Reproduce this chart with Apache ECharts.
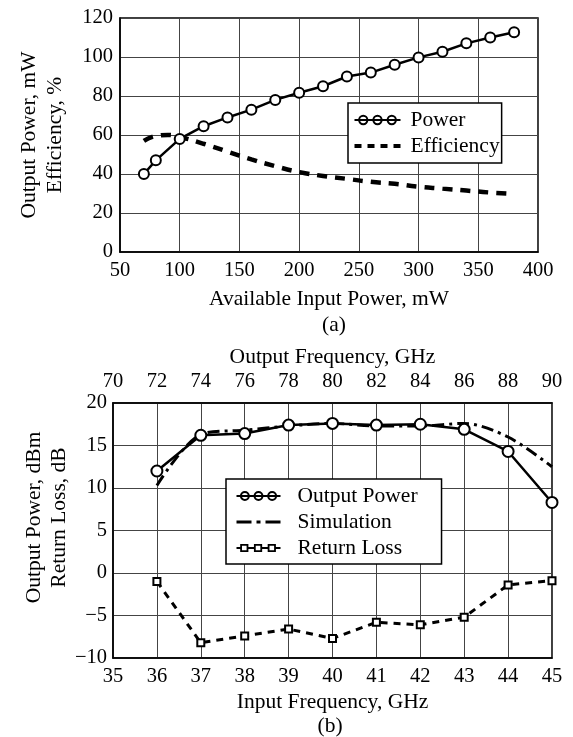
<!DOCTYPE html>
<html>
<head>
<meta charset="utf-8">
<script src="https://cdn.jsdelivr.net/npm/echarts@6/dist/echarts.min.js"></script>
<style>
  html, body { margin: 0; padding: 0; background: #fff; }
  #main { width: 573px; height: 737px; }
</style>
</head>
<body>
<div id="main"></div>
<script>
// (a) output power / efficiency vs available input power
const inputPower = [70, 80, 100, 120, 140, 160, 180, 200, 220, 240, 260, 280, 300, 320, 340, 360, 380];
const outPower = [40, 47, 58, 64.5, 69, 73, 78, 81.7, 85, 90, 92, 96, 99.8, 102.7, 107, 110, 112.7];
const effX = [70, 80, 90, 100, 120, 140, 160, 180, 200, 220, 240, 260, 280, 300, 320, 340, 360, 375];
const efficiency = [57, 59.5, 60, 59, 55.5, 51.5, 47.5, 44, 41, 39, 37.5, 36, 35, 33.5, 32.5, 31.5, 30.5, 30];

// (b) vs input frequency
const inFreq = [36, 37, 38, 39, 40, 41, 42, 43, 44, 45];
const outPowerDbm = [12.0, 16.2, 16.4, 17.4, 17.6, 17.4, 17.5, 16.9, 14.3, 8.3];
const simulation = [10.3, 16.3, 16.8, 17.3, 17.6, 17.3, 17.3, 17.6, 16.0, 12.5];
const returnLoss = [-1.0, -8.2, -7.4, -6.6, -7.7, -5.8, -6.1, -5.2, -1.4, -0.9];

const font = 'Liberation Serif';
const gridColor = '#444';
const tickSize = 20.5;
const nameSize = 21.5;

// legend icons (M0,0 / M0,10 keep the icon box 10 high)
const circleIcon = 'path://M0,5L50,5M5,5a4.5,4.5 0 1,0 9,0a4.5,4.5 0 1,0 -9,0M20.5,5a4.5,4.5 0 1,0 9,0a4.5,4.5 0 1,0 -9,0M36,5a4.5,4.5 0 1,0 9,0a4.5,4.5 0 1,0 -9,0';
const squareIcon = 'path://M0,5L5,5M5,1.5h7v7h-7zM12,5L20,5M20,1.5h7v7h-7zM27,5L35,5M35,1.5h7v7h-7zM42,5L48,5';
const dashIcon = 'path://M0,0M0,10M0,3h7v4h-7zM13,3h7v4h-7zM26,3h7v4h-7zM39,3h7v4h-7z';
const dashDotIcon = 'path://M0,0M0,10M0,3.5h15v3h-15zM20,3.5h4v3h-4zM29,3.5h15v3h-15z';

function xAxisCommon(extra) {
  return Object.assign({
    type: 'value',
    nameLocation: 'middle',
    nameMoveOverlap: false,
    nameTextStyle: { fontFamily: font, fontSize: nameSize, color: '#000' },
    axisLine: { show: true, onZero: false, lineStyle: { color: '#000', width: 1.5 } },
    axisTick: { show: false },
    splitLine: { show: true, lineStyle: { color: gridColor, width: 1 } }
  }, extra);
}

const chart = echarts.init(document.getElementById('main'));

const option = {
  backgroundColor: '#fff',
  animation: false,
  title: [
    { text: '(a)', left: 334, top: 314, padding: 0, textAlign: 'center',
      textStyle: { fontFamily: font, fontSize: nameSize, fontWeight: 'normal', color: '#000' } },
    { text: '(b)', left: 330, top: 715, padding: 0, textAlign: 'center',
      textStyle: { fontFamily: font, fontSize: nameSize, fontWeight: 'normal', color: '#000' } }
  ],
  grid: [
    { left: 120, top: 18, width: 418, height: 234, show: true, borderColor: '#000', borderWidth: 1.5 },
    { left: 113, top: 403, width: 439, height: 255, show: true, borderColor: '#000', borderWidth: 1.5 }
  ],
  legend: [
    {
      left: 348, top: 103, orient: 'vertical',
      padding: [6, 2, 6, 4], itemGap: 4, itemWidth: 46, itemHeight: 10,
      borderColor: '#000', borderWidth: 1.5, backgroundColor: '#fff',
      textStyle: { fontFamily: font, fontSize: nameSize, color: '#000', padding: [0, 0, 0, 5] },
      data: [
        { name: 'Power', icon: circleIcon, itemStyle: { color: 'none', borderColor: '#000', borderWidth: 2 } },
        { name: 'Efficiency', icon: dashIcon, itemStyle: { color: '#000', borderWidth: 0 } }
      ]
    },
    {
      left: 226, top: 479, orient: 'vertical',
      padding: [6, 24, 5, 8], itemGap: 4, itemWidth: 44, itemHeight: 10,
      borderColor: '#000', borderWidth: 1.5, backgroundColor: '#fff',
      textStyle: { fontFamily: font, fontSize: nameSize, color: '#000', padding: [0, 0, 0, 12] },
      data: [
        { name: 'Output Power', icon: circleIcon, itemStyle: { color: 'none', borderColor: '#000', borderWidth: 2 } },
        { name: 'Simulation', icon: dashDotIcon, itemStyle: { color: '#000', borderWidth: 0 } },
        { name: 'Return Loss', icon: squareIcon, itemStyle: { color: 'none', borderColor: '#000', borderWidth: 1.8 } }
      ]
    }
  ],
  xAxis: [
    xAxisCommon({
      gridIndex: 0, min: 50, max: 400, interval: 50,
      name: 'Available Input Power, mW', nameGap: 36,
      axisLabel: { fontFamily: font, fontSize: tickSize, color: '#000', margin: 8 }
    }),
    xAxisCommon({
      gridIndex: 1, min: 35, max: 45, interval: 1,
      name: 'Input Frequency, GHz', nameGap: 33,
      axisLabel: { fontFamily: font, fontSize: tickSize, color: '#000', margin: 8 }
    }),
    xAxisCommon({
      gridIndex: 1, position: 'top', min: 70, max: 90, interval: 2,
      name: 'Output Frequency, GHz', nameGap: 35,
      axisLabel: { fontFamily: font, fontSize: tickSize, color: '#000', margin: 11 },
      splitLine: { show: false }
    })
  ],
  yAxis: [
    {
      type: 'value', gridIndex: 0, min: 0, max: 120, interval: 20,
      name: 'Output Power, mW\nEfficiency, %', nameLocation: 'middle', nameGap: 52,
      nameMoveOverlap: false,
      nameTextStyle: { fontFamily: font, fontSize: nameSize, color: '#000', lineHeight: 26 },
      axisLine: { show: true, lineStyle: { color: '#000', width: 1.5 } },
      axisTick: { show: false },
      axisLabel: { fontFamily: font, fontSize: tickSize, color: '#000', margin: 7 },
      splitLine: { show: true, lineStyle: { color: gridColor, width: 1 } }
    },
    {
      type: 'value', gridIndex: 1, min: -10, max: 20, interval: 5,
      name: 'Output Power, dBm\nReturn Loss, dB', nameLocation: 'middle', nameGap: 41,
      nameMoveOverlap: false,
      nameTextStyle: { fontFamily: font, fontSize: nameSize, color: '#000', lineHeight: 25, padding: [0, 0, 0, 26] },
      axisLine: { show: true, lineStyle: { color: '#000', width: 1.5 } },
      axisTick: { show: false },
      axisLabel: { fontFamily: font, fontSize: tickSize, color: '#000', margin: 6,
        formatter: v => (v < 0 ? '\u2212' + Math.abs(v) : String(v)) },
      splitLine: { show: true, lineStyle: { color: gridColor, width: 1 } }
    }
  ],
  series: [
    {
      name: 'Power', type: 'line', xAxisIndex: 0, yAxisIndex: 0,
      data: inputPower.map((x, i) => [x, outPower[i]]),
      symbol: 'emptyCircle', symbolSize: 10, z: 3,
      lineStyle: { color: '#000', width: 2.5 },
      itemStyle: { color: '#000', borderColor: '#000', borderWidth: 1.2 }
    },
    {
      name: 'Efficiency', type: 'line', xAxisIndex: 0, yAxisIndex: 0,
      data: effX.map((x, i) => [x, efficiency[i]]),
      symbol: 'none', smooth: true,
      lineStyle: { color: '#000', width: 4.5, type: [10, 8] },
      itemStyle: { color: '#000' }
    },
    {
      name: 'Output Power', type: 'line', xAxisIndex: 1, yAxisIndex: 1,
      data: inFreq.map((x, i) => [x, outPowerDbm[i]]),
      symbol: 'emptyCircle', symbolSize: 11, z: 3,
      lineStyle: { color: '#000', width: 2.5 },
      itemStyle: { color: '#000', borderColor: '#000', borderWidth: 1.2 }
    },
    {
      name: 'Simulation', type: 'line', xAxisIndex: 1, yAxisIndex: 1,
      data: inFreq.map((x, i) => [x, simulation[i]]),
      symbol: 'none', smooth: 0.3,
      lineStyle: { color: '#000', width: 3, type: [12, 5, 3, 5] },
      itemStyle: { color: '#000' }
    },
    {
      name: 'Return Loss', type: 'line', xAxisIndex: 1, yAxisIndex: 1,
      data: inFreq.map((x, i) => [x, returnLoss[i]]),
      symbol: 'emptyRect', symbolSize: 7, z: 3,
      lineStyle: { color: '#000', width: 3, type: [7, 6] },
      itemStyle: { color: '#000', borderColor: '#000', borderWidth: 1.2 }
    }
  ]
};

chart.setOption(option);
</script>
</body>
</html>
